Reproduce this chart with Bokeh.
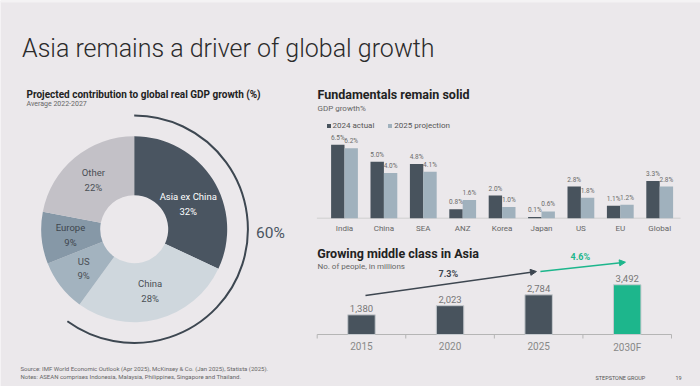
import numpy as np
from bokeh.plotting import figure
from bokeh.models import (Range1d, ColumnDataSource, Legend, LegendItem,
                          Arrow, NormalHead, LinearScale, BoxAnnotation)
from bokeh.core.properties import value
from bokeh.embed import file_html
from bokeh.resources import INLINE

# ---------------- data ----------------
share_labels = ["Asia ex China", "China", "US", "Europe", "Other"]
share_values = [32, 28, 9, 9, 22]

gdp_regions = ["India", "China", "SEA", "ANZ", "Korea", "Japan", "US", "EU", "Global"]
gdp_2024 = [6.5, 5.0, 4.8, 0.8, 2.0, 0.1, 2.8, 1.1, 3.3]
gdp_2025 = [6.2, 4.0, 4.1, 1.6, 1.0, 0.6, 1.8, 1.2, 2.8]

mc_years = ["2015", "2020", "2025", "2030F"]
mc_people = [1380, 2023, 2784, 3492]
mc_cagr = [7.3, 4.6]

# ---------------- style ----------------
W, H = 700, 386
BG = "#EBE8EB"
FONT = "Roboto"
TITLE_FONT = "Roboto Light"
DARK = "#48535D"
LIGHT = "#A0B1BD"
GREEN = "#1DB68C"
share_colors = ["#4A5561", "#CFD7DD", "#A3B3BF", "#8698A7", "#C3C1C7"]
share_text_colors = ["#FFFFFF", "#4A4F55", "#4A4F55", "#3E464E", "#4A4F55"]
share_label_nudge = [9, 0, 0, 0, 0]   # screen px, downward

p = figure(width=W, height=H, x_range=Range1d(0, W), y_range=Range1d(H, 0),
           output_backend="svg", toolbar_location=None,
           x_axis_location=None, y_axis_location=None, min_border=0,
           background_fill_color=BG, border_fill_color=BG, outline_line_color=None)
p.grid.visible = False
p.add_layout(BoxAnnotation(top=0, bottom=2, fill_color="#F4F2F4", fill_alpha=1, line_color=None))

p.extra_x_ranges, p.extra_y_ranges = {}, {}
p.extra_x_scales, p.extra_y_scales = {}, {}


def x_panel(name, px0, ppu):
    """linear x range: value 0 sits at pixel px0, ppu pixels per unit"""
    p.extra_x_ranges[name] = Range1d(-px0 / ppu, (W - px0) / ppu)
    p.extra_x_scales[name] = LinearScale()


def y_panel(name, py0, ppu):
    """linear y range: value 0 sits at pixel row py0 (from top), ppu pixels per unit"""
    p.extra_y_ranges[name] = Range1d(-(H - py0) / ppu, py0 / ppu)
    p.extra_y_scales[name] = LinearScale()


def ptext(x, y, txt, size, color, style="normal", align="left", baseline="alphabetic", font=FONT):
    p.text(x=[x], y=[y], text=[txt], text_font=value(font), text_font_size=f"{size}px",
           text_color=color, text_font_style=style, text_align=align, text_baseline=baseline)


# ---------------- titles ----------------
ptext(21.5, 48.3, "Asia remains a driver of global growth", 25, "#2B2B2B", font=TITLE_FONT)
ptext(26, 94, "Projected contribution to global real GDP growth (%)", 10, "#222222", "bold")
ptext(26, 103.5, "Average 2022-2027", 7, "#666666")
ptext(317, 94.3, "Fundamentals remain solid", 12.5, "#222222", "bold")
ptext(317, 107.8, "GDP growth%", 8, "#666666")
ptext(316.7, 253.3, "Growing middle class in Asia", 12.5, "#222222", "bold")
ptext(317, 265.5, "No. of people, in millions", 8, "#666666")

# ---------------- donut ----------------
x_panel("dx", 133.7, 1.0)
y_panel("dy", 228.7, 1.0)
frac = np.array(share_values, dtype=float) / sum(share_values)
cum_end = np.cumsum(frac)
cum_start = cum_end - frac
start_ang = np.pi / 2 - 2 * np.pi * cum_end
end_ang = np.pi / 2 - 2 * np.pi * cum_start
mid_ang = (start_ang + end_ang) / 2
lab_r = 64
donut_src = ColumnDataSource(dict(
    start=start_ang, end=end_ang, color=share_colors,
    lx=lab_r * np.cos(mid_ang), ly=lab_r * np.sin(mid_ang),
    text=[f"{l}\n{v}%" for l, v in zip(share_labels, share_values)],
    tcolor=share_text_colors, nudge=share_label_nudge,
))
p.annular_wedge(x=0, y=0, inner_radius=34, outer_radius=93,
                inner_radius_units="screen", outer_radius_units="screen",
                start_angle="start", end_angle="end", fill_color="color",
                line_color=None, source=donut_src, x_range_name="dx", y_range_name="dy")
p.text(x="lx", y="ly", text="text", text_color="tcolor", source=donut_src,
       text_font=value(FONT), text_font_size="9.5px", text_align="center",
       text_baseline="middle", text_line_height=1.35, y_offset="nudge",
       x_range_name="dx", y_range_name="dy")
asia_share = share_values[0] + share_values[1]
p.arc(x=0, y=0, radius=113.7, radius_units="screen",
      start_angle=np.pi / 2 - 2 * np.pi * asia_share / sum(share_values),
      end_angle=np.pi / 2, line_color="#3D4751", line_width=2,
      x_range_name="dx", y_range_name="dy")
ptext(270, 232.3, f"{asia_share}%", 15.5, "#4A5561", align="center")

# ---------------- GDP growth bars ----------------
x_panel("gx", 344, 39.4)
y_panel("gy", 217.7, 11.3)
n_reg = len(gdp_regions)
gx = np.arange(n_reg, dtype=float)
gdp_src = ColumnDataSource(dict(
    x=gx, xa=gx - 0.17, xb=gx + 0.17, zero=np.zeros(n_reg), a=gdp_2024, b=gdp_2025,
    la=[f"{v:.1f}%" for v in gdp_2024], lb=[f"{v:.1f}%" for v in gdp_2025],
    region=gdp_regions,
))
p.segment(x0=-0.7, y0=0, x1=n_reg - 0.47, y1=0, line_color="#CFCFCF", line_width=1,
          x_range_name="gx", y_range_name="gy")
r_a = p.vbar(x="xa", top="a", width=0.34, fill_color=DARK, line_color=None, source=gdp_src,
             x_range_name="gx", y_range_name="gy")
r_b = p.vbar(x="xb", top="b", width=0.34, fill_color=LIGHT, line_color=None, source=gdp_src,
             x_range_name="gx", y_range_name="gy")
for xc, yc, tc in (("xa", "a", "la"), ("xb", "b", "lb")):
    p.text(x=xc, y=yc, text=tc, source=gdp_src, text_font=value(FONT),
           text_font_size="6.5px", text_color="#6A6A6A", text_align="center",
           text_baseline="bottom", y_offset=-3, x_range_name="gx", y_range_name="gy")
p.text(x="x", y="zero", text="region", source=gdp_src, text_font=value(FONT),
       text_font_size="8px", text_color="#666666", text_align="center",
       text_baseline="top", y_offset=5.5, x_range_name="gx", y_range_name="gy")
leg = Legend(items=[LegendItem(label="2024 actual", renderers=[r_a]),
                    LegendItem(label="2025 projection", renderers=[r_b])],
             orientation="horizontal", location=(325.5, 256.5), glyph_width=5, glyph_height=5,
             label_height=9, label_standoff=2, spacing=13, padding=0, margin=0,
             label_text_font=FONT, label_text_font_size="8px", label_text_color="#555555",
             border_line_color=None, background_fill_alpha=0)
p.add_layout(leg)

# ---------------- middle class bars ----------------
x_panel("mx", 316.7, 88.575)
y_panel("my", 334, 0.01425)
n_yr = len(mc_years)
mc_src = ColumnDataSource(dict(
    xpos=np.arange(n_yr) + 0.5, zero=np.zeros(n_yr), people=mc_people,
    lab=[f"{v:,}" for v in mc_people], year=mc_years,
    color=[DARK] * (n_yr - 1) + [GREEN],
))
bounds = np.arange(n_yr + 1, dtype=float)
tick_len = 4 / 0.01425
p.segment(x0=0, y0=0, x1=n_yr, y1=0, line_color="#B5B5B5", line_width=1,
          x_range_name="mx", y_range_name="my")
p.segment(x0=bounds, y0=np.zeros(n_yr + 1), x1=bounds, y1=np.full(n_yr + 1, -tick_len),
          line_color="#B5B5B5", line_width=1, x_range_name="mx", y_range_name="my")
p.vbar(x="xpos", top="people", width=0.31, fill_color="color", line_color="#C6CACE",
       line_width=1, source=mc_src, x_range_name="mx", y_range_name="my")
p.text(x="xpos", y="people", text="lab", source=mc_src, text_font=value(FONT),
       text_font_size="9.5px", text_color="#777777", text_align="center",
       text_baseline="bottom", y_offset=-3, x_range_name="mx", y_range_name="my")
p.text(x="xpos", y="zero", text="year", source=mc_src, text_font=value(FONT),
       text_font_size="10px", text_color="#888888", text_align="center",
       text_baseline="top", y_offset=7.5, x_range_name="mx", y_range_name="my")

arrow_x = [(0.545, 2.475), (2.52, 3.48)]
arrow_y = [(2737, 4421), (4421, 5074)]
arrow_c = ["#3D4650", GREEN]
for (x0, x1), (y0, y1), c, g in zip(arrow_x, arrow_y, arrow_c, mc_cagr):
    p.add_layout(Arrow(end=NormalHead(size=6, fill_color=c, line_color=c),
                       x_start=x0, y_start=y0, x_end=x1, y_end=y1,
                       line_color=c, line_width=1.5,
                       x_range_name="mx", y_range_name="my"))
    p.text(x=[(x0 + x1) / 2 - 0.03], y=[(y0 + y1) / 2], text=[f"{g}%"], text_font=value(FONT),
           text_font_size="9px", text_font_style="bold", text_color=c,
           text_align="center", text_baseline="middle", y_offset=-9.5,
           x_range_name="mx", y_range_name="my")

# ---------------- footer ----------------
ptext(20, 367.8, "Source: IMF World Economic Outlook (Apr 2025), McKinsey & Co. (Jan 2025), Statista (2025).",
      6, "#666666")
ptext(20, 376.2, "Notes: ASEAN comprises Indonesia, Malaysia, Philippines, Singapore and Thailand.",
      6, "#666666")
ptext(595, 377.6, "STEPSTONE GROUP", 5.5, "#555555")
ptext(675, 377.6, "19", 5.5, "#555555")

open("out.html", "w").write(file_html(p, INLINE))
